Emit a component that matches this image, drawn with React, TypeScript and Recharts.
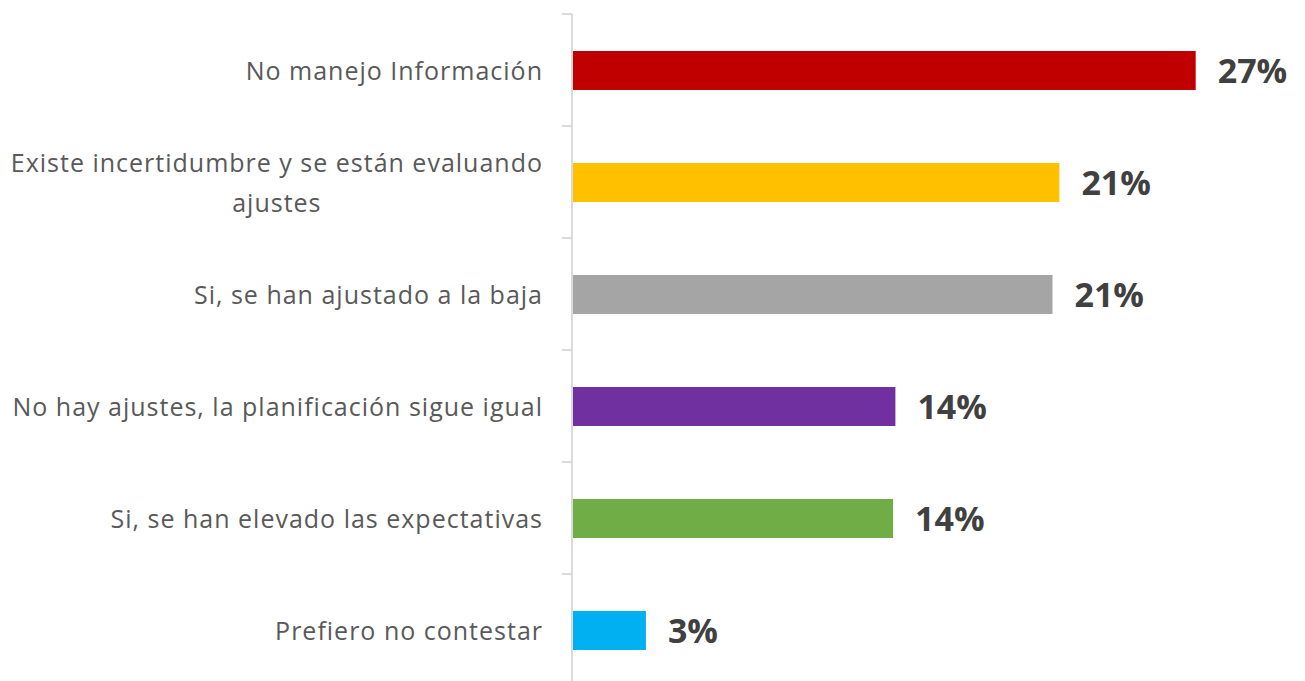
import React from "react";
import { BarChart, Bar, XAxis, YAxis, Cell, LabelList } from "recharts";

// categories top to bottom ("|" marks the line break)
const categories = [
  "No manejo Información",
  "Existe incertidumbre y se están evaluando|ajustes",
  "Si, se han ajustado a la baja",
  "No hay ajustes, la planificación sigue igual",
  "Si, se han elevado las expectativas",
  "Prefiero no contestar",
];
const shares = [27.0, 21.1, 20.8, 14.0, 13.9, 3.2];
const barColors = ["#C00000", "#FFC000", "#A5A5A5", "#7030A0", "#70AD47", "#00B0F0"];

const rows = categories.map((c, i) => ({ name: c, value: shares[i] }));

const FONT = "'Open Sans', sans-serif";
const LABEL_SIZE = 25;
const SPACING = 1;

let ctx: CanvasRenderingContext2D | null = null;
function textWidth(s: string) {
  if (!ctx) ctx = document.createElement("canvas").getContext("2d");
  if (!ctx) return s.length * 13;
  ctx.font = `${LABEL_SIZE}px ${FONT}`;
  return ctx.measureText(s).width + s.length * SPACING;
}

function CategoryTick(props: any) {
  const { x, y, payload } = props;
  const lines: string[] = String(payload.value).split("|");
  const half = payload.offset ?? 56;
  const right = x - 21;
  const lineH = 40;
  const maxW = Math.max(...lines.map(textWidth));
  const cx = right - maxW / 2;
  const y0 = y - ((lines.length - 1) * lineH) / 2;
  return (
    <g>
      <line x1={572 - 10} x2={572} y1={y - half} y2={y - half} stroke="#d9d9d9" strokeWidth={2} />
      <text
        fill="#595959"
        fontSize={LABEL_SIZE}
        fontFamily={FONT}
        letterSpacing={SPACING}
        textAnchor={lines.length > 1 ? "middle" : "end"}
        dominantBaseline="central"
      >
        {lines.map((l, i) => (
          <tspan key={i} x={lines.length > 1 ? cx : right} y={y0 + i * lineH}>
            {l}
          </tspan>
        ))}
      </text>
    </g>
  );
}

export default function App() {
  return (
    <div
      style={{
        position: "absolute",
        left: 0,
        top: 0,
        width: 1305,
        height: 681,
        overflow: "hidden",
        background: "#fff",
      }}
    >
      <BarChart
        width={1305}
        height={700}
        data={rows}
        layout="vertical"
        margin={{ top: 14, right: 40, bottom: 14, left: 0 }}
      >
        <XAxis type="number" domain={[0, 30]} hide />
        <YAxis
          type="category"
          dataKey="name"
          width={572}
          axisLine={{ stroke: "#d9d9d9", strokeWidth: 2 }}
          tickLine={false}
          tick={<CategoryTick />}
          interval={0}
        />
        <Bar dataKey="value" barSize={39} isAnimationActive={false}>
          {rows.map((r, i) => (
            <Cell key={r.name} fill={barColors[i]} />
          ))}
          <LabelList
            dataKey="value"
            position="right"
            offset={22}
            formatter={(v: any) => `${Math.round(Number(v))}%`}
            style={{ fill: "#404040", fontSize: 34, fontWeight: 700, fontFamily: FONT }}
          />
        </Bar>
      </BarChart>
    </div>
  );
}
